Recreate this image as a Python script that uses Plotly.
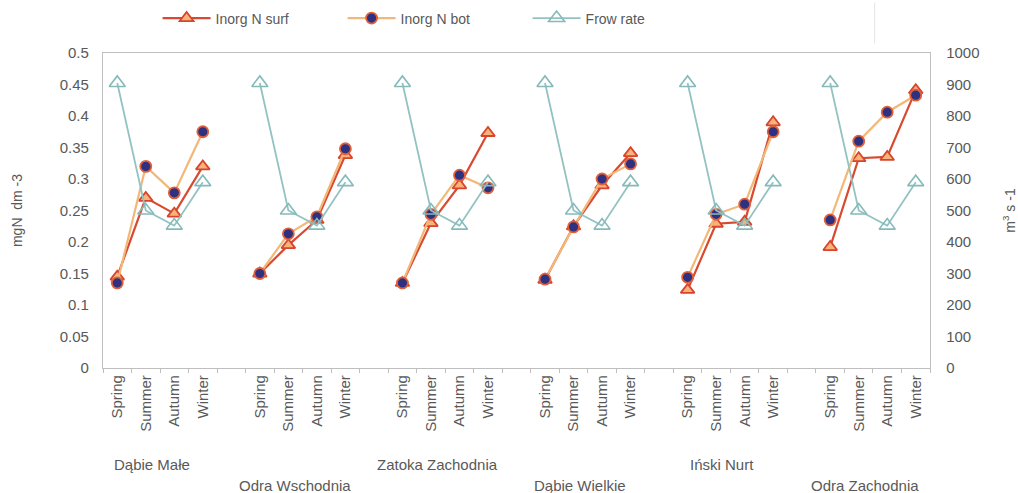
import plotly.graph_objects as go

# Sampling stations and seasons
stations = ["Dąbie Małe", "Odra Wschodnia", "Zatoka Zachodnia",
            "Dąbie Wielkie", "Iński Nurt", "Odra Zachodnia"]
seasons = ["Spring", "Summer", "Autumn", "Winter"]

# Inorganic nitrogen at the surface [mgN dm-3], one list per station (Spring..Winter)
inorg_n_surf = [
    [0.145, 0.270, 0.245, 0.320],
    [0.150, 0.195, 0.235, 0.338],
    [0.135, 0.230, 0.290, 0.373],
    [0.140, 0.225, 0.290, 0.341],
    [0.124, 0.229, 0.232, 0.390],
    [0.192, 0.333, 0.335, 0.441],
]

# Inorganic nitrogen at the bottom [mgN dm-3]
inorg_n_bot = [
    [0.135, 0.320, 0.278, 0.375],
    [0.150, 0.213, 0.240, 0.348],
    [0.135, 0.244, 0.306, 0.286],
    [0.141, 0.224, 0.300, 0.324],
    [0.144, 0.244, 0.260, 0.375],
    [0.235, 0.360, 0.406, 0.433],
]

# River flow rate [m3 s-1]
flow_rate = [
    [905, 500, 452, 590],
    [905, 500, 452, 590],
    [905, 500, 452, 590],
    [905, 500, 452, 590],
    [905, 500, 452, 590],
    [905, 500, 452, 590],
]

SLOT = len(seasons) + 1  # one empty slot between stations


def series(values):
    xs, ys = [], []
    for g, vals in enumerate(values):
        for s, v in enumerate(vals):
            xs.append(g * SLOT + s)
            ys.append(v)
        xs.append(g * SLOT + len(vals))
        ys.append(None)
    return xs, ys


FONT = "Liberation Sans, Arial, sans-serif"
TXT = "#595959"

fig = go.Figure()

x, y = series(inorg_n_surf)
fig.add_trace(go.Scatter(
    x=x, y=y, name="Inorg N surf", mode="lines+markers",
    line=dict(color="#d84a30", width=2.2),
    marker=dict(symbol="triangle-up", size=12, color="#f7b37a",
                line=dict(color="#d8442c", width=1.8)),
    connectgaps=False,
))

x, y = series(inorg_n_bot)
fig.add_trace(go.Scatter(
    x=x, y=y, name="Inorg N bot", mode="lines+markers",
    line=dict(color="#f3b878", width=2.2),
    marker=dict(symbol="circle", size=11, color="#2d3180",
                line=dict(color="#e0603c", width=1.8)),
    connectgaps=False,
))

x, y = series(flow_rate)
fig.add_trace(go.Scatter(
    x=x, y=y, name="Frow rate", mode="lines+markers", yaxis="y2",
    line=dict(color="#93c2c2", width=1.8),
    marker=dict(symbol="triangle-up-open", size=14, color="#86baba",
                line=dict(color="#86baba", width=1.6)),
    connectgaps=False,
))

tick_x = [g * SLOT + s for g in range(len(stations)) for s in range(len(seasons))]
tick_text = [seasons[s] for g in range(len(stations)) for s in range(len(seasons))]
n_slots = len(stations) * SLOT - 1

fig.update_layout(
    width=1018, height=493,
    margin=dict(l=103, r=88, t=53, b=125, autoexpand=False),
    paper_bgcolor="white", plot_bgcolor="white",
    font=dict(family=FONT, size=15, color=TXT),
    showlegend=True,
    legend=dict(orientation="h", x=0.066, xanchor="left", y=0.995, yanchor="top",
                yref="container", font=dict(size=14, color=TXT),
                itemwidth=48, entrywidth=122, bgcolor="rgba(0,0,0,0)"),
    xaxis=dict(
        range=[-0.5, n_slots - 0.5], automargin=False,
        tickmode="array", tickvals=tick_x, ticktext=tick_text,
        tickangle=-90, ticks="", tickfont=dict(size=15, color=TXT),
        showgrid=False, zeroline=False,
        showline=True, linecolor="#bfbfbf", linewidth=1.3, mirror=True,
        minor=dict(tickmode="array", tickvals=[i - 0.5 for i in range(n_slots + 1)],
                   ticks="outside", ticklen=4, tickcolor="#bfbfbf", showgrid=False),
    ),
    yaxis=dict(
        range=[0, 0.5], tickmode="linear", tick0=0, dtick=0.05, automargin=False,
        showgrid=False, zeroline=False,
        showline=True, linecolor="#bfbfbf", linewidth=1.3,
        ticks="", ticklabelstandoff=10, tickfont=dict(size=15, color=TXT),
        title=dict(text="mgN\u00a0 dm -3", font=dict(size=14, color=TXT), standoff=33),
    ),
    yaxis2=dict(
        range=[0, 1000], tickmode="linear", tick0=0, dtick=100, automargin=False,
        overlaying="y", side="right",
        showgrid=False, zeroline=False,
        showline=True, linecolor="#bfbfbf", linewidth=1.3,
        ticks="", ticklabelstandoff=12, tickfont=dict(size=15, color=TXT),
        title=dict(text="m<sup>3</sup> s -1", font=dict(size=14, color=TXT), standoff=30),
    ),
)

# Station names below the season labels, staggered on two rows
rows = [0, 1, 0, 1, 0, 1]
for g, name in enumerate(stations):
    center = g * SLOT + (len(seasons) - 1) / 2
    fig.add_annotation(
        x=center, xref="x", y=-0.305 - 0.068 * rows[g], yref="paper",
        text=name, showarrow=False, xshift=-8,
        font=dict(size=15, color=TXT), xanchor="center", yanchor="middle",
    )

# thin separator at the top right
fig.add_shape(type="line", xref="paper", yref="paper",
              x0=0.933, x1=0.933, y0=1.03, y1=1.16,
              line=dict(color="#e4e4e4", width=1))

fig.write_html("out.html")
